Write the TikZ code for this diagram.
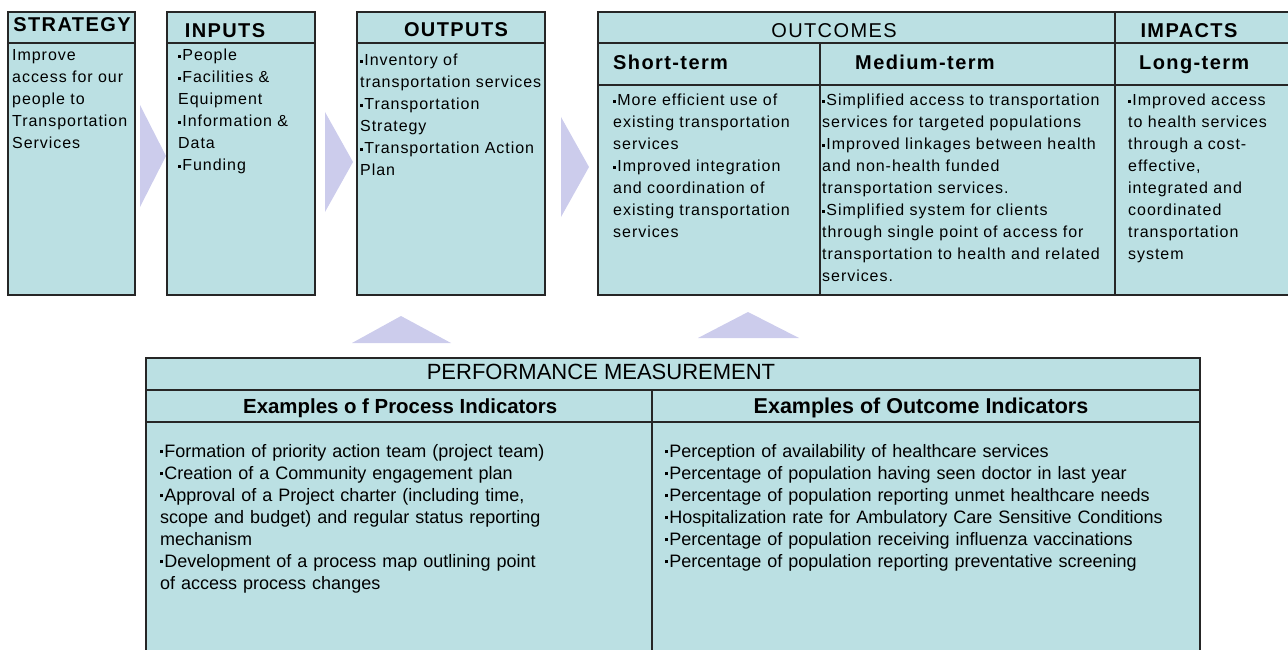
\documentclass[tikz,border=0pt]{standalone}
\usepackage{fontspec}
\setmainfont{Liberation Sans}
\newfontfamily\topfont[LetterSpace=6]{Liberation Sans}
\newfontfamily\hdfont[LetterSpace=7]{Liberation Sans}
\usetikzlibrary{positioning}
\definecolor{cellfill}{RGB}{187,224,227}
\definecolor{chevfill}{RGB}{204,204,236}
\newcommand\sqb{\raisebox{.2em}{\rule{3.2pt}{3.2pt}}\kern1pt}

\begin{document}
\begin{tikzpicture}[x=1pt,y=-1pt]%
        \useasboundingbox (0,0) rectangle (1288,650);%%
        % chevrons between the boxes
        \fill[chevfill] (140,105)--(166,156)--(140,207)--cycle; %%
        \fill[chevfill] (325,112)--(353,162)--(325,212)--cycle; %%
        \fill[chevfill] (561,117)--(589,167)--(561,217)--cycle; %%
        \fill[chevfill] (352,343)--(401,316)--(451,343)--cycle; %%
        \fill[chevfill] (698,338)--(748,312)--(799,338)--cycle; %%
        % cells
        \begin{scope}
        \tikzstyle{every node}=[draw=black!85,fill=cellfill,line width=1.2pt,inner sep=0pt,outer sep=0pt,anchor=north west] %%
        \node[minimum width=127pt,minimum height=31pt] (stratH) at (8,12) {}; %%
        \node[minimum width=127pt,minimum height=252pt] (stratB) at (8,43) {}; %%
        \node[minimum width=148pt,minimum height=31pt] (inpH) at (167,12) {}; %%
        \node[minimum width=148pt,minimum height=252pt] (inpB) at (167,43) {}; %%
        \node[minimum width=188pt,minimum height=31pt] (outpH) at (357,12) {}; %%
        \node[minimum width=188pt,minimum height=252pt] (outpB) at (357,43) {}; %%
        \node[minimum width=517pt,minimum height=31pt] (outcH) at (598,12) {}; %%
        \node[minimum width=222pt,minimum height=42pt] (shortH) at (598,43) {}; %%
        \node[minimum width=222pt,minimum height=210pt] (shortB) at (598,85) {}; %%
        \node[minimum width=295pt,minimum height=42pt] (medH) at (820,43) {}; %%
        \node[minimum width=295pt,minimum height=210pt] (medB) at (820,85) {}; %%
        \node[minimum width=175pt,minimum height=31pt] (impH) at (1115,12) {}; %%
        \node[minimum width=175pt,minimum height=42pt] (longH) at (1115,43) {}; %%
        \node[minimum width=175pt,minimum height=210pt] (longB) at (1115,85) {}; %%
        \node[minimum width=1054pt,minimum height=32pt] (perfH) at (146,358) {}; %%
        \node[minimum width=506pt,minimum height=32pt] (procH) at (146,390) {}; %%
        \node[minimum width=506pt,minimum height=230pt] (procB) at (146,422) {}; %%
        \node[minimum width=548pt,minimum height=32pt] (indH) at (652,390) {}; %%
        \node[minimum width=548pt,minimum height=230pt] (indB) at (652,422) {}; %%
        \end{scope}
        % headings
        \begin{scope}
        \tikzstyle{every node}=[inner sep=0pt,anchor=base,font=\hdfont\fontsize{20}{24}\selectfont] %%
        \node (stratT) at (72,32) {\bfseries STRATEGY}; %%
        \node (inpT) at (225,38) {\bfseries INPUTS}; %%
        \node (outpT) at (456,37) {\bfseries OUTPUTS}; %%
        \node (outcT) at (834,38) {OUTCOMES}; %%
        \node (impT) at (1189,38) {\bfseries IMPACTS}; %%
        \node[anchor=base west] (shortT) at (613,70) {\bfseries Short-term}; %%
        \node (medT) at (925,70) {\bfseries Medium-term}; %%
        \node[anchor=base west] (longT) at (1139,70) {\bfseries Long-term}; %%
        \end{scope}
        \begin{scope}
        \tikzstyle{every node}=[inner sep=0pt,anchor=base] %%
        \node[font=\fontsize{22}{26}\selectfont] (perfT) at (601,379) {PERFORMANCE MEASUREMENT}; %%
        \node[anchor=base west,font=\bfseries\fontsize{20.4}{24}\selectfont] (procT) at (243,413) {Examples o f Process Indicators}; %%
        \node[font=\bfseries\fontsize{21.5}{24}\selectfont] (indT) at (921,413) {Examples of Outcome Indicators}; %%
        \end{scope}
        % box texts
        \begin{scope}
        \tikzstyle{every node}=[inner sep=0pt,anchor=base west,align=left,text width=300pt,font=\topfont\fontsize{16}{22}\selectfont] %%
        \node (stratX) at (12,61) {Improve\\access for our\\people to\\Transportation\\Services}; %%
        \node (inpX) at (178,61) {\sqb People\\\sqb Facilities \&\\Equipment\\\sqb Information \&\\Data\\\sqb Funding}; %%
        \node (outpX) at (360,66) {\sqb Inventory of\\transportation services\\\sqb Transportation\\Strategy\\\sqb Transportation Action\\Plan}; %%
        \node (shortX) at (613,106) {\sqb More efficient use of\\existing transportation\\services\\\sqb Improved integration\\and coordination of\\existing transportation\\services}; %%
        \node (medX) at (822,106) {\sqb Simplified access to transportation\\services for targeted populations\\\sqb Improved linkages between health\\and non-health funded\\transportation services.\\\sqb Simplified system for clients\\through single point of access for\\transportation to health and related\\services.}; %%
        \node (longX) at (1128,106) {\sqb Improved access\\to health services\\through a cost-\\effective,\\integrated and\\coordinated\\transportation\\system}; %%
        \end{scope}
        \begin{scope}
        \tikzstyle{every node}=[inner sep=0pt,anchor=base west,align=left,text width=540pt,font=\fontsize{18}{22}\selectfont] %%
        \node (procX) at (160,457) {\sqb Formation of priority action team (project team)\\\sqb Creation of a Community engagement plan\\\sqb Approval of a Project charter (including time,\\scope and budget) and regular status reporting\\mechanism\\\sqb Development of a process map outlining point\\of access process changes}; %%
        \node (indX) at (665,457) {\sqb Perception of availability of healthcare services\\\sqb Percentage of population having seen doctor in last year\\\sqb Percentage of population reporting unmet healthcare needs\\\sqb Hospitalization rate for Ambulatory Care Sensitive Conditions\\\sqb Percentage of population receiving influenza vaccinations\\\sqb Percentage of population reporting preventative screening}; %%
        \end{scope}
\end{tikzpicture}
\end{document}
